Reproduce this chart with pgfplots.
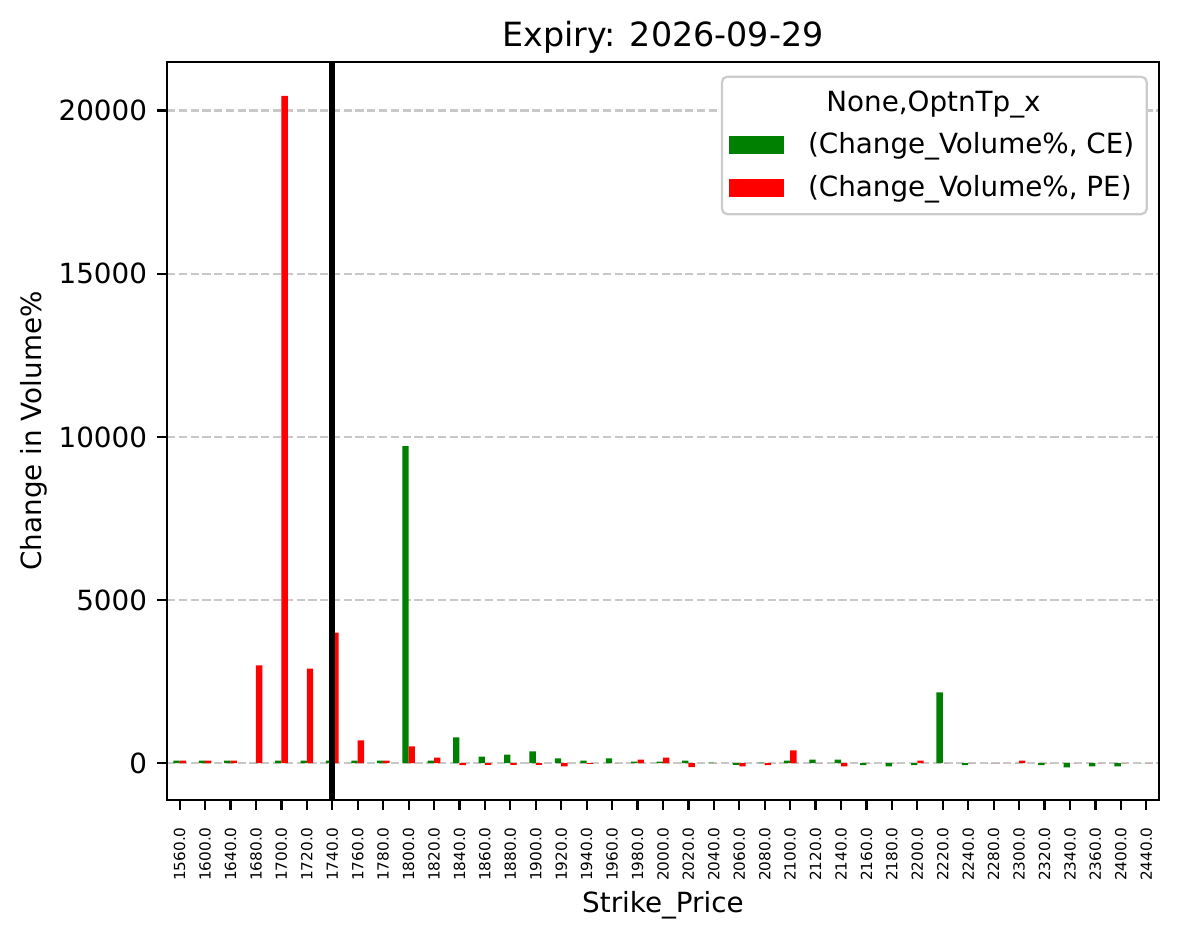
\documentclass[border=0pt]{standalone}
\usepackage{fontspec}
\setmainfont{DejaVu Sans}
\usepackage{pgfplots}
\usepackage{pgfplotstable}
\pgfplotsset{compat=1.18}
\definecolor{ceGreen}{RGB}{0,128,0}
\definecolor{peRed}{RGB}{255,0,0}
\definecolor{gridgray}{RGB}{200,200,200}
\pgfplotstableread{
x ce pe
0 80 80
1 80 80
2 80 80
3 0 3000
4 80 20450
5 80 2900
6 80 4000
7 80 700
8 80 80
9 9720 520
10 80 175
11 790 -60
12 205 -50
13 265 -50
14 360 -50
15 145 -100
16 80 -20
17 145 0
18 50 110
19 50 175
20 80 -120
21 15 0
22 -50 -100
23 20 -60
24 80 390
25 110 0
26 110 -100
27 -60 0
28 -100 0
29 -60 80
30 2170 0
31 -60 0
32 0 0
33 0 80
34 -60 0
35 -130 0
36 -100 0
37 -100 0
38 0 0
}\data
\begin{document}
\begin{tikzpicture}
\begin{axis}[
  at={(0,0)}, anchor=south west,
  scale only axis, width=357.1pt, height=265.7pt,
  ybar,
  xmin=-0.5, xmax=38.5, ymin=-1130, ymax=21490,
  axis line style={line width=0.8pt},
  tick align=outside, major tick length=3.5pt,
  tick style={black, line width=0.8pt},
  xtick pos=bottom, ytick pos=left,
  xtick={0,...,38},
  xticklabels={1560.0,1600.0,1640.0,1680.0,1700.0,1720.0,1740.0,1760.0,1780.0,1800.0,1820.0,1840.0,1860.0,1880.0,1900.0,1920.0,1940.0,1960.0,1980.0,2000.0,2020.0,2040.0,2060.0,2080.0,2100.0,2120.0,2140.0,2160.0,2180.0,2200.0,2220.0,2240.0,2280.0,2300.0,2320.0,2340.0,2360.0,2400.0,2440.0},
  xticklabel style={rotate=90, anchor=east, font=\fontsize{5.5}{6.5}\selectfont, inner xsep=6.1pt, inner ysep=1pt},
  ytick={0,5000,10000,15000,20000},
  scaled y ticks=false,
  yticklabels={0,5000,10000,15000,20000},
  yticklabel style={font=\fontsize{10}{12}\selectfont, inner sep=0pt, xshift=-3.5pt},
  ymajorgrids,
  major grid style={gridgray, line width=0.8pt, dash pattern=on 2.96pt off 1.28pt},
  title={Expiry: 2026-09-29},
  title style={at={(axis description cs:0.5,1)}, anchor=base, yshift=-0.4pt, font=\fontsize{12}{14}\selectfont},
  xlabel={Strike\_Price},
  xlabel style={at={(axis description cs:0.5,0)}, anchor=base, yshift=-40.3pt, font=\fontsize{10}{12}\selectfont},
  ylabel={Change in Volume\%},
  ylabel style={at={(axis description cs:0,0.5)}, anchor=center, yshift=47.8pt, font=\fontsize{10}{12}\selectfont},
  legend cell align=left,
  legend image code/.code={\fill[#1, sharp corners] (0pt,-3.3pt) rectangle (20pt,3.3pt);},
  legend style={at={(rel axis cs:1,1)}, anchor=north east, xshift=-4.0pt, yshift=-4.9pt,
    draw=black!20, line width=0.8pt, rounded corners=2pt, fill=white,
    font=\fontsize{10}{12}\selectfont, inner xsep=2.5pt, inner ysep=3pt, row sep=2.2pt, column sep=6.5pt,
    nodes={inner sep=2pt}},
]
\addlegendimage{empty legend}
\addlegendentry{\hspace{6.6pt}None,OptnTp\_x}
\addplot[fill=ceGreen, draw=none, bar width=0.25, bar shift=-0.125] table[x=x, y=ce] {\data};
\addlegendentry{(Change\_Volume\%, CE)}
\addplot[fill=peRed, draw=none, bar width=0.25, bar shift=0.125] table[x=x, y=pe] {\data};
\addlegendentry{(Change\_Volume\%, PE)}
\addplot[sharp plot, black, line width=2.2pt, forget plot] coordinates {(6,-3000) (6,25000)};
\end{axis}
\pgfresetboundingbox
\path[use as bounding box] (-60.1pt,-50.0pt) rectangle (364.3pt,288.0pt);
\end{tikzpicture}
\end{document}
